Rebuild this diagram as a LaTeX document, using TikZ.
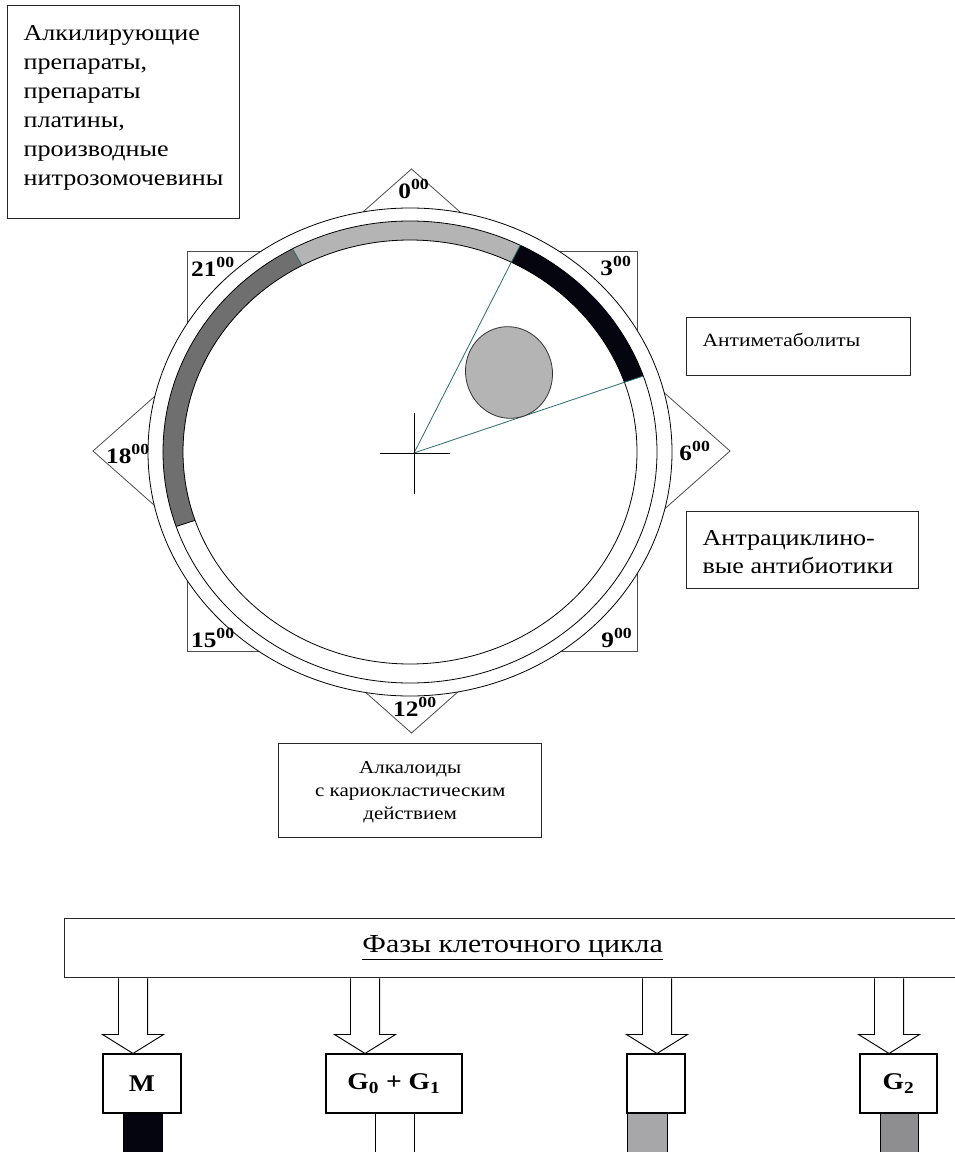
\documentclass[tikz,border=0pt]{standalone}
\usepackage{fontspec}
\setmainfont[FakeStretch=1.15]{Liberation Serif}
\usetikzlibrary{shapes.geometric,calc}
\definecolor{lgr}{HTML}{B4B4B4}
\definecolor{dgr}{HTML}{6F6F6F}
\definecolor{blk}{HTML}{05050F}
\definecolor{tealc}{HTML}{2E6B6B}
\definecolor{barA}{HTML}{A7A7A9}
\definecolor{barB}{HTML}{8E8E90}
\tikzset{
  frame/.style={draw=black!70, fill=white, line width=0.6pt},
  ring/.style={draw=black, line width=0.6pt},
  tbox/.style={rectangle, draw=black!85, line width=1pt, fill=white, inner sep=0pt},
  lab/.style={font=\fontsize{16.5pt}{18pt}\selectfont\bfseries, inner sep=0pt},
  rad/.style={draw=tealc, line width=0.6pt},
  arr/.style={draw=black, fill=white, line width=0.7pt, line join=miter},
  sbox/.style={rectangle, draw=black, line width=0.8pt, fill=white, inner sep=0pt,
    minimum height=44.25pt, font=\fontsize{18pt}{20pt}\selectfont\bfseries},
  bar/.style={rectangle, draw=black, line width=0.7pt, inner sep=0pt, anchor=north west,
    minimum height=35.25pt},
  cellst/.style={ellipse, draw=black!80, line width=0.6pt, fill=lgr, inner sep=0pt,
    minimum width=65pt, minimum height=69pt, rotate=15},
}
\newcommand\bandseg[3]{\fill[#3] ([shift={(#1:247 and 231)}]C) arc[start angle=#1, end angle=#2, x radius=247, y radius=231] -- ([shift={(#2:227 and 212)}]C) arc[start angle=#2, end angle=#1, x radius=227, y radius=212] -- cycle;}
\newcommand\bandcut[2]{\draw[#2] ([shift={(#1:227 and 212)}]C) -- ([shift={(#1:247 and 231)}]C);}
\newcommand\barrow[2]{\draw[arr] let \p1=([xshift=#2]#1.north), \p2=(ph.south) in
  (\x1-10.9pt,\y2) -- (\x1-10.9pt,\y1+14.25pt) -- (\x1-22.9pt,\y1+14.25pt) -- (\x1,\y1)
  -- (\x1+22.9pt,\y1+14.25pt) -- (\x1+10.9pt,\y1+14.25pt) -- (\x1+10.9pt,\y2);}
\begin{document}
\begin{tikzpicture}[x=0.75pt, y=-0.75pt]
\useasboundingbox (0,0) rectangle (955,1152);
% clock frame
\coordinate (C) at (410,452);
\draw[frame] (411.5,169) -- (730,451) -- (411.5,733) -- (93,451) -- cycle;
\draw[frame] (187,251) rectangle (637,651);
\draw[ring, fill=white] (C) ellipse [x radius=262, y radius=244];
% band
\bandseg{-118.4}{-63.5}{lgr}
\bandseg{-63.5}{-19.2}{blk}
\bandseg{161.2}{241.6}{dgr}
\draw[ring] (C) ellipse [x radius=247, y radius=231];
\draw[ring] (C) ellipse [x radius=227, y radius=212];
\bandcut{-118.4}{rad}
\bandcut{-63.5}{rad}
\bandcut{-19.2}{rad}
\bandcut{161.2}{ring}
% radial lines and crosshair
\coordinate (X) at (414,453);
\coordinate (E1) at ([shift={(-63.5:227 and 212)}]C);
\coordinate (E2) at ([shift={(-19.2:227 and 212)}]C);
\draw[rad] (X) -- (E1);
\draw[rad] (X) -- (E2);
\draw[line width=0.6pt] (414,413) -- (414,494);
\draw[line width=0.6pt] (380,453) -- (450,453);
\node[cellst] (cell) at (509,372.5) {};
% hour labels
\node[lab] (h0) at (414,189) {0\textsuperscript{00}};
\node[lab] (h3) at (616,266) {3\textsuperscript{00}};
\node[lab] (h6) at (695,451) {6\textsuperscript{00}};
\node[lab] (h9) at (617,638) {9\textsuperscript{00}};
\node[lab] (h12) at (415,707) {12\textsuperscript{00}};
\node[lab] (h15) at (213,638) {15\textsuperscript{00}};
\node[lab] (h18) at (128,454) {18\textsuperscript{00}};
\node[lab] (h21) at (213,267) {21\textsuperscript{00}};
% text boxes
\node[tbox, anchor=north west] (alk) at (7,5) {\begin{minipage}[t][159.75pt][t]{174pt}\fontsize{17pt}{21.75pt}\selectfont\raggedright\leftskip=12pt\rule{0pt}{25.9pt}Алкилирующие\\препараты,\\препараты\\платины,\\производные\\нитрозомочевины\end{minipage}};
\node[tbox, anchor=north west] (antim) at (686,317) {\begin{minipage}[t][43.5pt][t]{168pt}\fontsize{14pt}{17pt}\selectfont\raggedright\leftskip=12pt\rule{0pt}{21.3pt}Антиметаболиты\end{minipage}};
\node[tbox, anchor=north west] (antr) at (686,511) {\begin{minipage}[t][57.75pt][t]{174pt}\fontsize{17pt}{21pt}\selectfont\raggedright\leftskip=12pt\rule{0pt}{25.1pt}Антрациклино-\\вые антибиотики\end{minipage}};
\node[tbox, anchor=north west] (alkal) at (278,743) {\begin{minipage}[t][70.5pt][t]{197.25pt}\fontsize{13.7pt}{17.25pt}\selectfont\centering\rule{0pt}{22.5pt}Алкалоиды\\с кариокластическим\\действием\end{minipage}};
% phases
\node[tbox, anchor=north west, minimum width=672pt, minimum height=44.25pt,
  font=\fontsize{19.5pt}{23pt}\selectfont] (ph) at (64,918) {\underline{Фазы клеточного цикла}};
\node[sbox, minimum width=58.5pt] (bM) at (142,1083.5) {M};
\node[sbox, minimum width=102pt] (bG) at (394,1083.5) {G\textsubscript{0} + G\textsubscript{1}};
\node[sbox, minimum width=43.5pt] (bS) at (656,1083.5) {};
\node[sbox, minimum width=57.75pt] (bG2) at (898.5,1083.5) {G\textsubscript{2}};
\barrow{bM}{-6.75pt}
\barrow{bG}{-21.75pt}
\barrow{bS}{0.75pt}
\barrow{bG2}{-7.1pt}
\node[bar, fill=blk, minimum width=29.25pt] (rM) at (123,1113) {};
\node[bar, fill=white, minimum width=29.25pt] (rG) at (375,1113) {};
\node[bar, fill=barA, minimum width=30pt] (rS) at (627,1113) {};
\node[bar, fill=barB, minimum width=28.5pt] (rG2) at (880,1113) {};
\end{tikzpicture}
\end{document}
